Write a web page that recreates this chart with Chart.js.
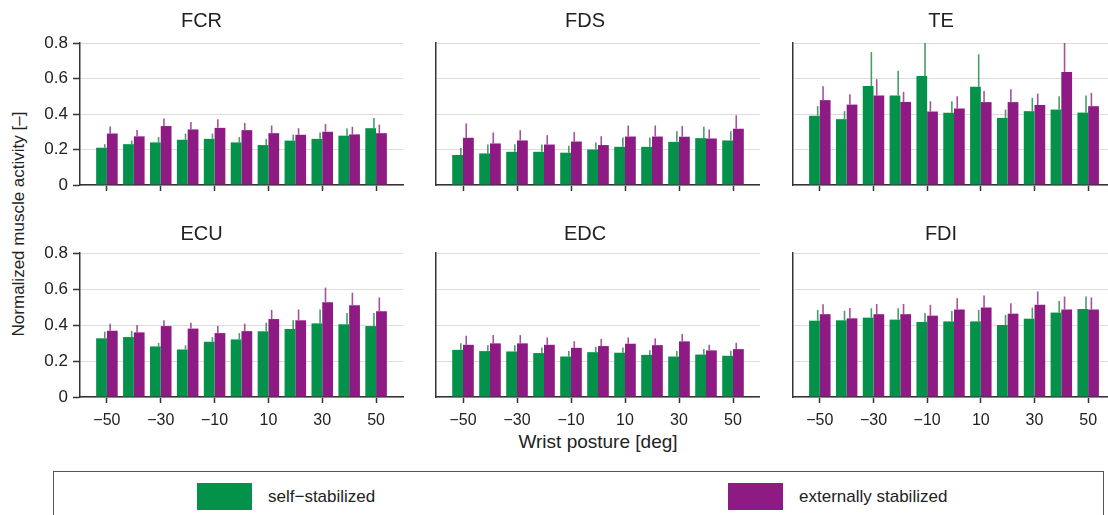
<!DOCTYPE html>
<html>
<head>
<meta charset="utf-8">
<script src="https://cdn.jsdelivr.net/npm/chart.js@4.4.0/dist/chart.umd.min.js"></script>
<style>
  body { margin: 0; width: 1108px; height: 515px; overflow: hidden; position: relative; background: #fff;
         font-family: 'Liberation Sans', Arial, sans-serif; color: #222; }
  .panel { position: absolute; }
  #ylabel { position: absolute; left: 19px; top: 224px; transform: translate(-50%, -50%) rotate(-90deg);
            white-space: nowrap; font-size: 17px; }
  #xlabel { position: absolute; left: 598px; top: 432px; transform: translateX(-50%); white-space: nowrap;
            font-size: 19px; line-height: 1; }
  #legend { position: absolute; left: 53px; top: 471px; width: 1049px; height: 60px; border: 1.5px solid #555; }
  .item { position: absolute; top: 11px; display: flex; align-items: center; font-size: 17px; }
  .swatch { width: 55px; height: 27px; margin-right: 16px; }
</style>
</head>
<body>
<div id="ylabel">Normalized muscle activity [&#8211;]</div>
<div id="xlabel">Wrist posture [deg]</div>
<div id="legend"></div>
<script>
const postures = [-50, -40, -30, -20, -10, 0, 10, 20, 30, 40, 50];
const xTickLabels = [-50, -30, -10, 10, 30, 50];
const yTickLabels = [0, 0.2, 0.4, 0.6, 0.8];
const muscles = ['FCR', 'FDS', 'TE', 'ECU', 'EDC', 'FDI'];
const seriesNames = ['self\u2212stabilized', 'externally stabilized'];
const seriesColors = ['#04924a', '#8e1a83'];
const errorColors = ['rgba(40,140,80,0.85)', 'rgba(150,50,140,0.85)'];

const fcrSelf = [0.21, 0.23, 0.24, 0.255, 0.26, 0.24, 0.225, 0.25, 0.26, 0.278, 0.32];
const fcrSelfErr = [0.02, 0.02, 0.03, 0.035, 0.03, 0.03, 0.035, 0.035, 0.036, 0.04, 0.058];
const fcrExt = [0.29, 0.274, 0.332, 0.313, 0.322, 0.309, 0.292, 0.283, 0.30, 0.285, 0.292];
const fcrExtErr = [0.04, 0.036, 0.043, 0.042, 0.048, 0.041, 0.043, 0.037, 0.043, 0.043, 0.048];

const fdsSelf = [0.169, 0.178, 0.187, 0.187, 0.182, 0.20, 0.215, 0.215, 0.243, 0.264, 0.251];
const fdsSelfErr = [0.04, 0.05, 0.043, 0.041, 0.039, 0.04, 0.053, 0.053, 0.06, 0.064, 0.052];
const fdsExt = [0.266, 0.234, 0.251, 0.228, 0.245, 0.225, 0.273, 0.273, 0.272, 0.262, 0.317];
const fdsExtErr = [0.081, 0.062, 0.058, 0.053, 0.053, 0.05, 0.062, 0.062, 0.06, 0.051, 0.076];

const teSelf = [0.39, 0.371, 0.558, 0.504, 0.614, 0.407, 0.553, 0.378, 0.416, 0.425, 0.408];
const teSelfErr = [0.054, 0.045, 0.191, 0.139, 0.2, 0.065, 0.183, 0.047, 0.075, 0.075, 0.096];
const teExt = [0.478, 0.453, 0.504, 0.468, 0.414, 0.431, 0.467, 0.467, 0.451, 0.637, 0.444];
const teExtErr = [0.078, 0.058, 0.092, 0.057, 0.058, 0.069, 0.063, 0.073, 0.064, 0.2, 0.075];

const ecuSelf = [0.326, 0.333, 0.281, 0.264, 0.307, 0.32, 0.365, 0.378, 0.409, 0.404, 0.394];
const ecuSelfErr = [0.037, 0.034, 0.019, 0.023, 0.026, 0.035, 0.048, 0.048, 0.077, 0.063, 0.073];
const ecuExt = [0.368, 0.359, 0.394, 0.38, 0.355, 0.366, 0.433, 0.426, 0.527, 0.51, 0.476];
const ecuExtErr = [0.039, 0.041, 0.032, 0.033, 0.039, 0.041, 0.051, 0.06, 0.081, 0.07, 0.077];

const edcSelf = [0.262, 0.255, 0.253, 0.244, 0.225, 0.249, 0.246, 0.234, 0.225, 0.236, 0.229];
const edcSelfErr = [0.036, 0.033, 0.034, 0.031, 0.03, 0.03, 0.029, 0.026, 0.03, 0.03, 0.028];
const edcExt = [0.29, 0.298, 0.298, 0.29, 0.273, 0.283, 0.296, 0.288, 0.309, 0.259, 0.266];
const edcExtErr = [0.05, 0.046, 0.046, 0.041, 0.037, 0.039, 0.035, 0.038, 0.041, 0.031, 0.035];

const fdiSelf = [0.424, 0.426, 0.441, 0.43, 0.417, 0.42, 0.42, 0.40, 0.435, 0.469, 0.489];
const fdiSelfErr = [0.06, 0.053, 0.052, 0.063, 0.05, 0.058, 0.064, 0.056, 0.062, 0.065, 0.069];
const fdiExt = [0.46, 0.437, 0.46, 0.46, 0.452, 0.486, 0.497, 0.463, 0.513, 0.486, 0.486];
const fdiExtErr = [0.055, 0.058, 0.057, 0.057, 0.06, 0.063, 0.067, 0.058, 0.073, 0.072, 0.067];

const panelData = [
  [fcrSelf, fcrSelfErr, fcrExt, fcrExtErr],
  [fdsSelf, fdsSelfErr, fdsExt, fdsExtErr],
  [teSelf, teSelfErr, teExt, teExtErr],
  [ecuSelf, ecuSelfErr, ecuExt, ecuExtErr],
  [edcSelf, edcSelfErr, edcExt, edcExtErr],
  [fdiSelf, fdiSelfErr, fdiExt, fdiExtErr]
];

// layout of the 2x3 grid
const cols = [
  { left: 0, width: 410, yW: 80, padR: 7, yLabels: true },
  { left: 410, width: 350, yW: 26, padR: 0, yLabels: false },
  { left: 767, width: 348, yW: 26, padR: 0, yLabels: false }
];
// row 1 x axis is taller than its ticks so the "0" label's half height fits
const rows = [
  { top: 0, height: 201, xH: 16, tPad: { top: 9, bottom: 10 }, xLabels: false },
  { top: 210, height: 222, xH: 35, tPad: { top: 12, bottom: 7 }, xLabels: true }
];

// error bars: upward only, drawn near the middle of each bar pair
const errorBars = {
  id: 'errorBars',
  afterDatasetsDraw(chart) {
    const ctx = chart.ctx;
    const yScale = chart.scales.y;
    const area = chart.chartArea;
    ctx.save();
    ctx.lineWidth = 1.6;
    chart.data.datasets.forEach((ds, di) => {
      const meta = chart.getDatasetMeta(di);
      ctx.strokeStyle = ds.errColor;
      meta.data.forEach((bar, i) => {
        const v = ds.data[i].y;
        const x = bar.x + bar.width * ds.errShift;
        const y0 = yScale.getPixelForValue(v);
        const y1 = Math.max(yScale.getPixelForValue(v + ds.errors[i]), area.top);
        ctx.beginPath();
        ctx.moveTo(x, y0);
        ctx.lineTo(x, y1);
        ctx.stroke();
      });
    });
    ctx.restore();
  }
};

muscles.forEach((name, k) => {
  const col = cols[k % 3];
  const row = rows[Math.floor(k / 3)];
  const [selfVals, selfErr, extVals, extErr] = panelData[k];

  const div = document.createElement('div');
  div.className = 'panel';
  div.style.left = col.left + 'px';
  div.style.top = row.top + 'px';
  const canvas = document.createElement('canvas');
  canvas.width = col.width;
  canvas.height = row.height;
  div.appendChild(canvas);
  document.body.appendChild(div);

  new Chart(canvas.getContext('2d'), {
    type: 'bar',
    data: {
      datasets: [
        {
          label: seriesNames[0],
          data: postures.map((p, i) => ({ x: p, y: selfVals[i] })),
          errors: selfErr,
          errColor: errorColors[0],
          errShift: 0.3,
          backgroundColor: seriesColors[0]
        },
        {
          label: seriesNames[1],
          data: postures.map((p, i) => ({ x: p, y: extVals[i] })),
          errors: extErr,
          errColor: errorColors[1],
          errShift: -0.2,
          backgroundColor: seriesColors[1]
        }
      ]
    },
    options: {
      responsive: false,
      animation: false,
      categoryPercentage: 0.8,
      barPercentage: 1,
      borderWidth: 0,
      layout: { padding: { left: 0, right: col.padR, top: 0, bottom: 0 } },
      plugins: {
        legend: { display: false },
        tooltip: { enabled: false },
        title: {
          display: true,
          text: name,
          color: '#222',
          font: { family: "'Liberation Sans', Arial, sans-serif", size: 20, weight: 'normal' },
          padding: row.tPad
        }
      },
      scales: {
        x: {
          type: 'linear',
          min: -60,
          max: 60,
          offset: false,
          afterBuildTicks: s => { s.ticks = xTickLabels.map(v => ({ value: v })); },
          afterFit: s => { s.height = row.xH; },
          grid: { display: true, offset: false, drawOnChartArea: false, drawTicks: true, tickLength: 6,
                  tickColor: '#333', tickWidth: 1.5 },
          border: { display: true, color: '#333', width: 1.5 },
          ticks: {
            display: row.xLabels,
            padding: 8,
            maxRotation: 0,
            autoSkip: false,
            color: '#222',
            font: { family: "'Liberation Sans', Arial, sans-serif", size: 16 },
            callback: v => v < 0 ? '\u2212' + Math.abs(v) : String(v)
          }
        },
        y: {
          min: 0,
          max: 0.8,
          afterBuildTicks: s => { s.ticks = yTickLabels.map(v => ({ value: v })); },
          afterFit: s => { s.width = col.yW; },
          grid: { color: '#dcdcdc', lineWidth: 1, drawTicks: col.yLabels, tickLength: 7,
                  tickColor: '#333', tickWidth: 1.5 },
          border: { display: true, color: '#333', width: 1.5 },
          ticks: {
            display: col.yLabels,
            padding: 5,
            color: '#222',
            font: { family: "'Liberation Sans', Arial, sans-serif", size: 17 },
            callback: v => v === 0 ? '0' : v.toFixed(1)
          }
        }
      }
    },
    plugins: [errorBars]
  });
});

// shared legend box under the grid
const legend = document.getElementById('legend');
const legendLeft = [143, 674];
seriesNames.forEach((s, i) => {
  const item = document.createElement('div');
  item.className = 'item';
  item.style.left = legendLeft[i] + 'px';
  item.innerHTML = '<div class="swatch" style="background:' + seriesColors[i] + '"></div><span>' + s + '</span>';
  legend.appendChild(item);
});
</script>
</body>
</html>
